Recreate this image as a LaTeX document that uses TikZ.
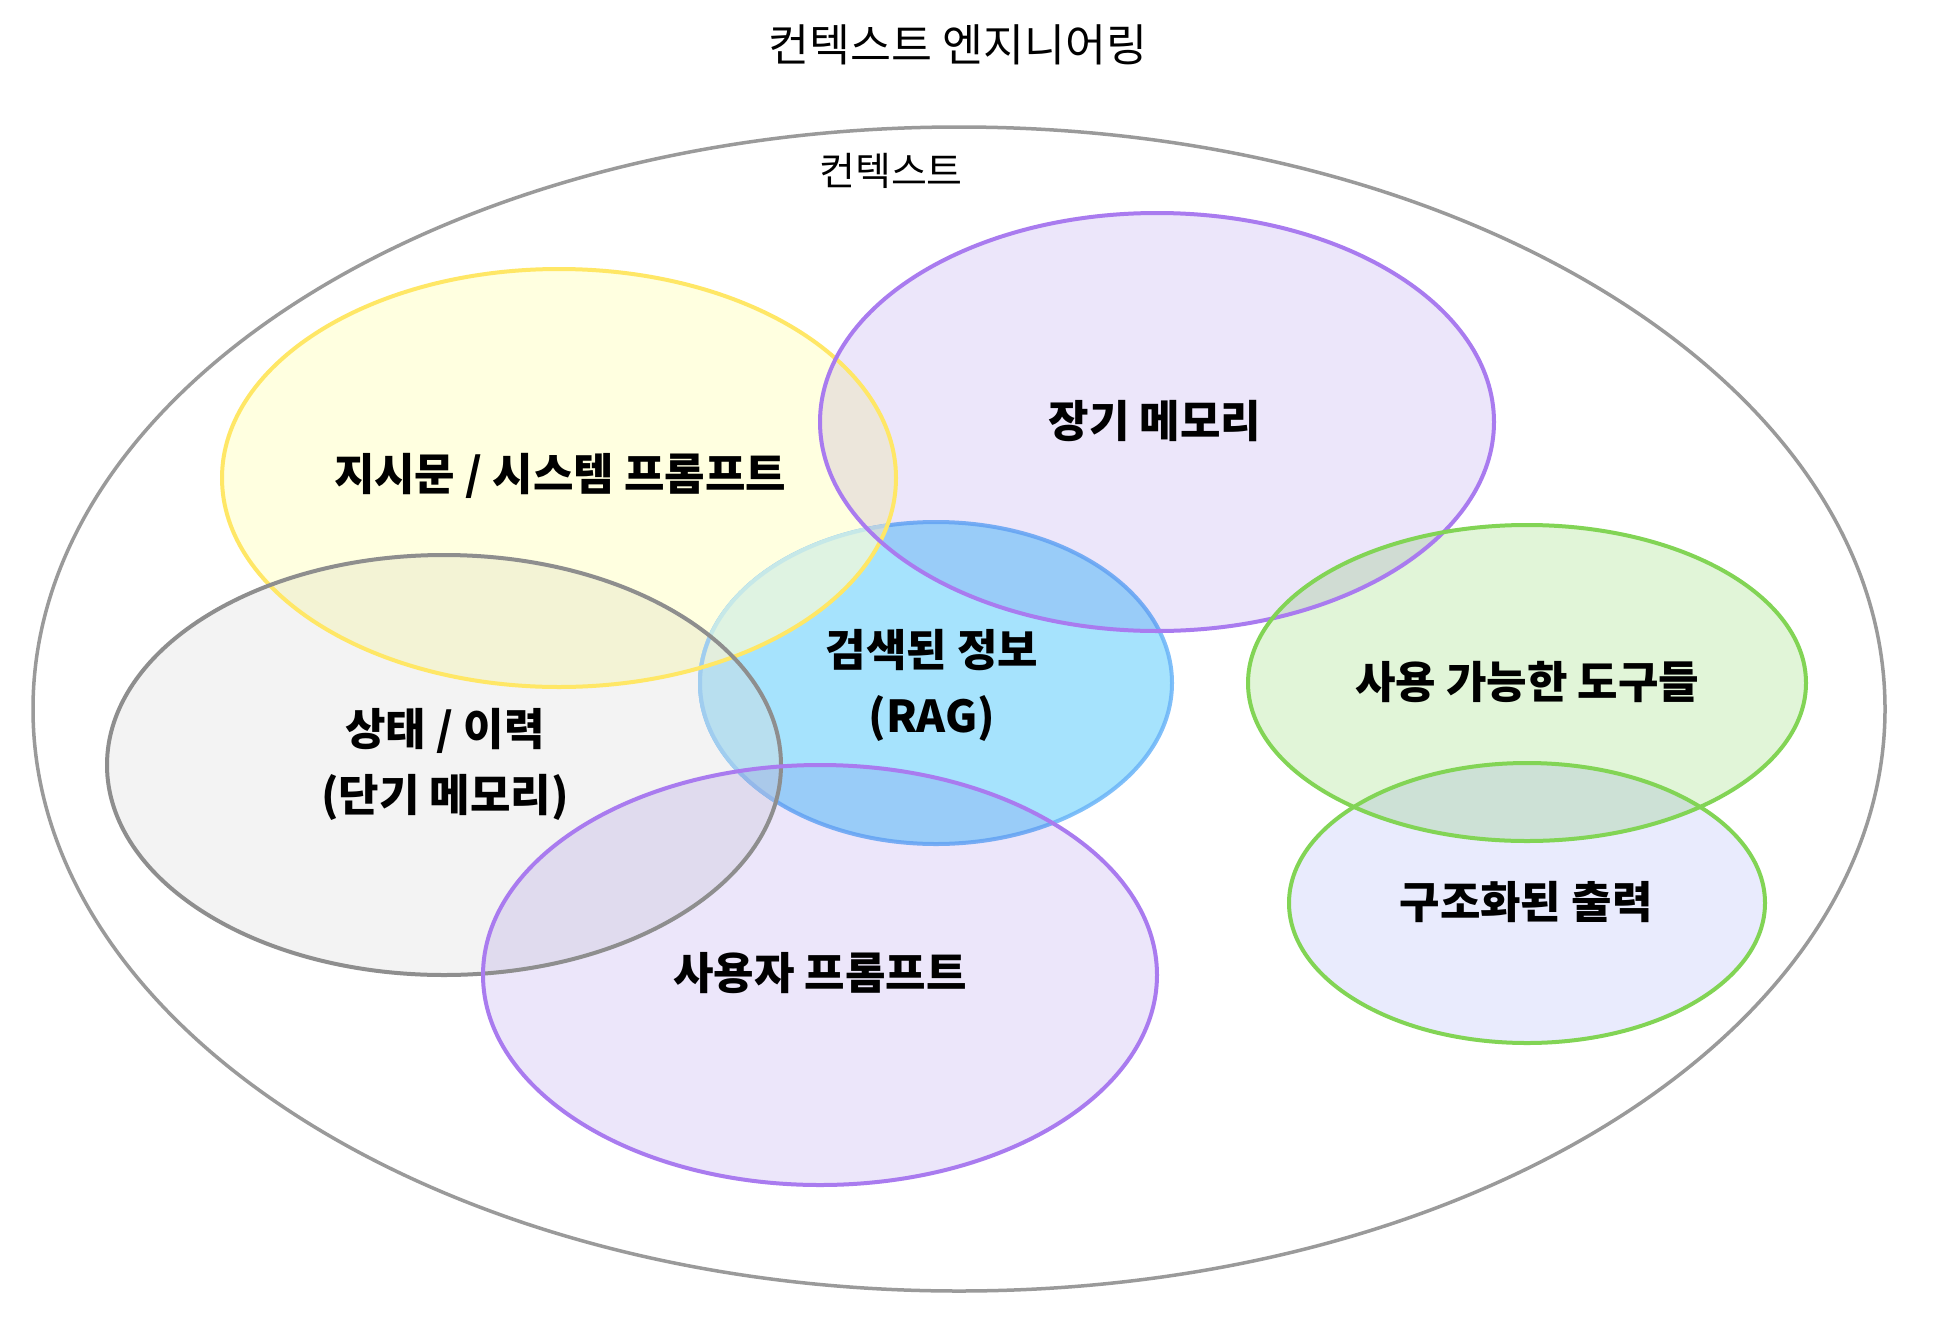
\documentclass[tikz,border=0pt]{standalone}
\usepackage{fontspec}
\setmainfont{Noto Sans CJK KR}
\usetikzlibrary{shapes.geometric}
\definecolor{outerline}{HTML}{9A9A9A}
\definecolor{yelfill}{HTML}{FFFFE0}
\definecolor{yelline}{HTML}{FFE766}
\definecolor{purfill}{HTML}{ECE6FA}
\definecolor{purline}{HTML}{A97BEF}
\definecolor{bluefill}{HTML}{A6E3FD}
\definecolor{blueline}{HTML}{6BB4F8}
\definecolor{grayfill}{HTML}{F3F3F3}
\definecolor{grayline}{HTML}{8E8E8E}
\definecolor{grnfill}{HTML}{E1F5D8}
\definecolor{grnline}{HTML}{82D455}
\definecolor{outfill}{HTML}{E9EBFD}
\definecolor{ybfill}{HTML}{DFF3E2}
\definecolor{gbfill}{HTML}{B8DFEF}
\definecolor{ygbfill}{HTML}{E3EEDD}
\definecolor{paleblueY}{HTML}{C6E8E8}
\definecolor{paleblueG}{HTML}{A0CDEF}
\tikzset{
  fillpart/.style={fill=#1, blend mode=multiply},
  linepart/.style={draw=#1, line width=4pt},
  lbl/.style={font=\fontsize{44}{66}\selectfont\bfseries, align=center, inner sep=0pt, text=black},
  sysE/.style={x radius=337pt, y radius=209pt},
  stateE/.style={x radius=337pt, y radius=210pt},
  ragE/.style={x radius=236pt, y radius=161pt},
  ltmE/.style={x radius=337pt, y radius=209pt},
  userE/.style={x radius=337pt, y radius=210pt},
  toolsE/.style={x radius=279pt, y radius=158pt},
  outE/.style={x radius=238pt, y radius=140pt},
}
\begin{document}
\begin{tikzpicture}[x=1pt,y=-1pt]
\useasboundingbox[fill=white] (0,0) rectangle (1940,1330);
% centres
\coordinate (outerC) at (959,709);
\coordinate (sysC) at (559,478);
\coordinate (stateC) at (444,765);
\coordinate (ragC) at (936,683);
\coordinate (ltmC) at (1157,422);
\coordinate (userC) at (820,975);
\coordinate (toolsC) at (1527,683);
\coordinate (outC) at (1527,903);
% outer context
\draw[draw=outerline, line width=3.5pt] (outerC) ellipse [x radius=926pt, y radius=582pt];
% fills (left group)
\fill[fillpart=yelfill] (sysC) ellipse [sysE];
\fill[fillpart=grayfill] (stateC) ellipse [stateE];
\fill[fillpart=bluefill] (ragC) ellipse [ragE];
\draw[linepart=blueline, opacity=0.85] (ragC) ellipse [ragE];
% translucent layers seen over the blue disc
\begin{scope}
  \clip (ragC) ellipse [ragE];
  \fill[ybfill] (sysC) ellipse [sysE];
  \fill[gbfill] (stateC) ellipse [stateE];
  \clip (sysC) ellipse [sysE];
  \fill[ygbfill] (stateC) ellipse [stateE];
\end{scope}
\begin{scope}
  \clip (sysC) ellipse [sysE];
  \draw[linepart=paleblueY] (ragC) ellipse [ragE];
\end{scope}
\begin{scope}
  \clip (stateC) ellipse [stateE];
  \draw[linepart=paleblueG] (ragC) ellipse [ragE];
\end{scope}
% remaining fills
\fill[fillpart=purfill] (ltmC) ellipse [ltmE];
\fill[fillpart=purfill] (userC) ellipse [userE];
\fill[fillpart=grnfill] (toolsC) ellipse [toolsE];
\fill[fillpart=outfill] (outC) ellipse [outE];
% outlines
\draw[linepart=yelline] (sysC) ellipse [sysE];
\draw[linepart=grayline] (stateC) ellipse [stateE];
\draw[linepart=purline] (ltmC) ellipse [ltmE];
\draw[linepart=purline] (userC) ellipse [userE];
\draw[linepart=grnline] (toolsC) ellipse [toolsE];
\draw[linepart=grnline] (outC) ellipse [outE];
% texts
\node[font=\fontsize{44.5}{52}\selectfont, inner sep=0pt] (title) at (958,45) {컨텍스트 엔지니어링};
\node[font=\fontsize{39}{46}\selectfont, inner sep=0pt] (ctx) at (891,171) {컨텍스트};
\node[lbl] (sys) at (560,476) {지시문 / 시스템 프롬프트};
\node[lbl] (ltm) at (1155,421) {장기 메모리};
\node[lbl] (rag) at (932,685) {검색된 정보\\(RAG)};
\node[lbl] (state) at (445,764) {상태 / 이력\\(단기 메모리)};
\node[lbl] (user) at (820,973) {사용자 프롬프트};
\node[lbl] (tools) at (1527,682) {사용 가능한 도구들};
\node[lbl] (out) at (1526,902) {구조화된 출력};
\end{tikzpicture}
\end{document}
